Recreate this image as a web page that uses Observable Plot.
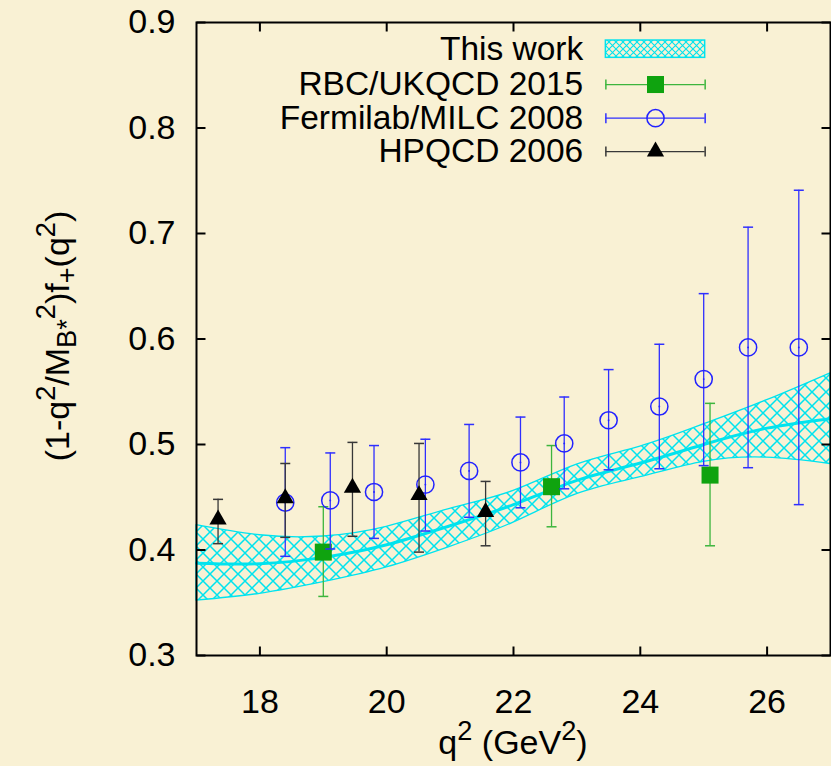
<!DOCTYPE html>
<html>
<head>
<meta charset="utf-8">
<script src="https://cdn.jsdelivr.net/npm/d3@7"></script>
<script src="https://cdn.jsdelivr.net/npm/@observablehq/plot@0.6"></script>
<style>
  html, body { margin: 0; padding: 0; background: #f9f1d4; }
  #chart { width: 831px; height: 766px; }
  #chart svg text { white-space: pre; }
</style>
</head>
<body>
<div id="chart"></div>
<script>
// ---- axis ticks ----
const xTicks = [18, 20, 22, 24, 26];
const yTicks = [0.3, 0.4, 0.5, 0.6, 0.7, 0.8, 0.9];

// ---- "This work": fit band (lower edge, central value, upper edge) ----
const bandQ2  = [17, 18, 19, 20, 21, 22, 23, 24, 25, 26, 27];
const bandLo  = [0.352, 0.3585, 0.3695, 0.3835, 0.403, 0.426, 0.453, 0.469, 0.4835, 0.4875, 0.4815];
const bandMid = [0.3875, 0.3870, 0.3930, 0.4050, 0.423, 0.443, 0.466, 0.4825, 0.5000, 0.5155, 0.5245];
const bandHi  = [0.4235, 0.4140, 0.4128, 0.4220, 0.439, 0.456, 0.481, 0.498, 0.519, 0.542, 0.5675];

// ---- RBC/UKQCD 2015 ----
const rbcQ2 = [19.00, 22.60, 25.10];
const rbcF  = [0.398, 0.460, 0.471];
const rbcLo = [0.356, 0.422, 0.404];
const rbcHi = [0.441, 0.499, 0.539];

// ---- Fermilab/MILC 2008 ----
const fnalQ2 = [18.40, 19.11, 19.80, 20.61, 21.30, 22.11, 22.80, 23.50, 24.30, 25.00, 25.70, 26.50];
const fnalF  = [0.445, 0.447, 0.455, 0.462, 0.475, 0.483, 0.501, 0.523, 0.536, 0.562, 0.592, 0.592];
const fnalLo = [0.394, 0.401, 0.411, 0.418, 0.431, 0.440, 0.458, 0.476, 0.477, 0.480, 0.478, 0.443];
const fnalHi = [0.497, 0.492, 0.499, 0.505, 0.519, 0.526, 0.545, 0.571, 0.595, 0.643, 0.706, 0.741];

// ---- HPQCD 2006 ----
const hpqQ2 = [17.34, 18.40, 19.46, 20.51, 21.56];
const hpqF  = [0.429, 0.449, 0.459, 0.452, 0.436];
const hpqLo = [0.406, 0.412, 0.413, 0.398, 0.404];
const hpqHi = [0.448, 0.482, 0.502, 0.501, 0.465];

const legendLabels = ["This work", "RBC/UKQCD 2015", "Fermilab/MILC 2008", "HPQCD 2006"];

// ---- tables for the marks ----
const table = (q2, f, lo, hi) => q2.map((q, i) => ({q2: q, f: f[i], lo: lo[i], hi: hi[i]}));
const band = bandQ2.map((q, i) => ({q2: q, lo: bandLo[i], mid: bandMid[i], hi: bandHi[i]}));

const cyan = "#00e3ee";
const fontSize = 34;
const legendFontSize = 33.5;
const series = [
  {label: legendLabels[1], data: table(rbcQ2, rbcF, rbcLo, rbcHi), bar: "#3db53d",
   symbol: "square", r: 9.6, fill: "#0fa30f", stroke: "none", sw: 0},
  {label: legendLabels[2], data: table(fnalQ2, fnalF, fnalLo, fnalHi), bar: "#2f2fff",
   symbol: "circle", r: 8.6, fill: "none", stroke: "#2222ff", sw: 1.5},
  {label: legendLabels[3], data: table(hpqQ2, hpqF, hpqLo, hpqHi), bar: "#383838",
   symbol: "triangle", r: 6.4, fill: "black", stroke: "none", sw: 0}
];

// ---- legend layout (in data units, top-right inside the frame) ----
const legendTextX = 23.10;
const legendX1 = 23.457, legendX2 = 25.023, legendXm = 24.24;
const legendY = [0.8747, 0.8412, 0.8093, 0.7777];
const swatchHalf = 0.0082;

// ---- custom glyphs: inward axis ticks and error-bar caps ----
const tickLen = 9;
const tickUp    = {draw(c) { c.moveTo(0, 0); c.lineTo(0, -tickLen); }};
const tickDown  = {draw(c) { c.moveTo(0, 0); c.lineTo(0, tickLen); }};
const tickRight = {draw(c) { c.moveTo(0, 0); c.lineTo(tickLen, 0); }};
const tickLeft  = {draw(c) { c.moveTo(0, 0); c.lineTo(-tickLen, 0); }};
const capH = {draw(c) { c.moveTo(-5, 0); c.lineTo(5, 0); }};
const capV = {draw(c) { c.moveTo(0, -5); c.lineTo(0, 5); }};

const seriesMarks = series.flatMap(s => [
  Plot.ruleX(s.data, {x: "q2", y1: "lo", y2: "hi", stroke: s.bar, strokeWidth: 1.3}),
  Plot.dot(s.data, {x: "q2", y: "lo", symbol: capH, fill: "none", stroke: s.bar, strokeWidth: 1.5}),
  Plot.dot(s.data, {x: "q2", y: "hi", symbol: capH, fill: "none", stroke: s.bar, strokeWidth: 1.5}),
  Plot.dot(s.data, {x: "q2", y: "f", symbol: s.symbol, r: s.r, fill: s.fill, stroke: s.stroke, strokeWidth: s.sw}),
  ...(s.symbol === "circle"
    ? [Plot.dot(s.data, {x: "q2", y: "f", r: 0.9, fill: s.stroke, stroke: "none"})]
    : [])
]);

const legendMarks = [
  Plot.text(legendLabels, {x: legendTextX, y: (d, i) => legendY[i], text: d => d,
    textAnchor: "end", lineAnchor: "middle", fontSize: legendFontSize}),
  Plot.rect([legendY[0]], {x1: legendX1, x2: legendX2, y1: d => d - swatchHalf, y2: d => d + swatchHalf,
    fill: "url(#swatchHatch)", stroke: cyan, strokeWidth: 1.5}),
  ...series.flatMap((s, k) => {
    const row = [legendY[k + 1]];
    return [
      Plot.ruleY(row, {y: d => d, x1: legendX1, x2: legendX2, stroke: s.bar, strokeWidth: 1.3}),
      Plot.dot(row, {x: legendX1, y: d => d, symbol: capV, fill: "none", stroke: s.bar, strokeWidth: 1.5}),
      Plot.dot(row, {x: legendX2, y: d => d, symbol: capV, fill: "none", stroke: s.bar, strokeWidth: 1.5}),
      Plot.dot(row, {x: legendXm, y: d => d, symbol: s.symbol, r: s.r, fill: s.fill, stroke: s.stroke, strokeWidth: s.sw})
    ];
  })
];

const plot = Plot.plot({
  width: 831,
  height: 766,
  marginLeft: 196,
  marginRight: 1,
  marginTop: 22,
  marginBottom: 111,
  style: {background: "transparent", color: "black", fontFamily: "'Liberation Sans', Arial, Helvetica, sans-serif", overflow: "visible"},
  x: {domain: [17, 27]},
  y: {domain: [0.3, 0.9]},
  marks: [
    // fit band and its central curve
    Plot.areaY(band, {x: "q2", y1: "lo", y2: "hi", curve: "natural",
      fill: "url(#bandHatch)", stroke: cyan, strokeWidth: 1.3}),
    Plot.line(band, {x: "q2", y: "mid", curve: "natural", stroke: cyan, strokeWidth: 3}),
    ...seriesMarks,
    ...legendMarks,
    // axes: labels outside, short ticks pointing into the frame on every side
    Plot.axisX({ticks: xTicks, tickSize: 0, tickPadding: 33, fontSize, label: null}),
    Plot.axisY({ticks: yTicks, tickSize: 0, tickPadding: 21, fontSize, label: null,
      tickFormat: d3.format(".1f")}),
    Plot.dot(xTicks, {x: d => d, frameAnchor: "bottom", symbol: tickUp, fill: "none", stroke: "black", strokeWidth: 2}),
    Plot.dot(xTicks, {x: d => d, frameAnchor: "top", symbol: tickDown, fill: "none", stroke: "black", strokeWidth: 2}),
    Plot.dot(yTicks, {y: d => d, frameAnchor: "left", symbol: tickRight, fill: "none", stroke: "black", strokeWidth: 2}),
    Plot.dot(yTicks, {y: d => d, frameAnchor: "right", symbol: tickLeft, fill: "none", stroke: "black", strokeWidth: 2}),
    Plot.frame({stroke: "black", strokeWidth: 2})
  ]
});

// cross-hatch fill patterns (two diagonals per tile)
const svg = d3.select(plot);
const defs = svg.insert("defs", ":first-child");
function hatch(id, p, w) {
  const pat = defs.append("pattern").attr("id", id)
    .attr("patternUnits", "userSpaceOnUse").attr("width", p).attr("height", p);
  pat.append("path")
    .attr("d", `M-2,-2L${p + 2},${p + 2}M${p + 2},-2L-2,${p + 2}`)
    .attr("stroke", cyan).attr("stroke-width", w).attr("fill", "none");
}
hatch("bandHatch", 14, 1.5);
hatch("swatchHatch", 7, 1.1);

// axis titles with super- and subscripts
function richText(x, y, rotate, fs, parts) {
  const t = svg.append("text")
    .attr("transform", `translate(${x},${y})` + (rotate ? ` rotate(${rotate})` : ""))
    .attr("text-anchor", "middle").attr("font-size", fs).attr("fill", "black");
  let shift = 0;
  for (const [s, kind] of parts) {
    const target = kind === "sup" ? -0.42 * fs : kind === "sub" ? 0.22 * fs : 0;
    t.append("tspan").attr("dy", target - shift).attr("font-size", kind ? 0.8 * fs : fs).text(s);
    shift = target;
  }
  return t;
}
richText(513, 754, 0, fontSize, [["q"], ["2", "sup"], [" (GeV"], ["2", "sup"], [")"]]);
richText(69, 336, -90, fontSize, [["(1-q"], ["2", "sup"], ["/M"], ["B*", "sub"], ["2", "sup"], [")f"], ["+", "sub"], ["(q"], ["2", "sup"], [")"]]);

document.getElementById("chart").append(plot);
</script>
</body>
</html>
